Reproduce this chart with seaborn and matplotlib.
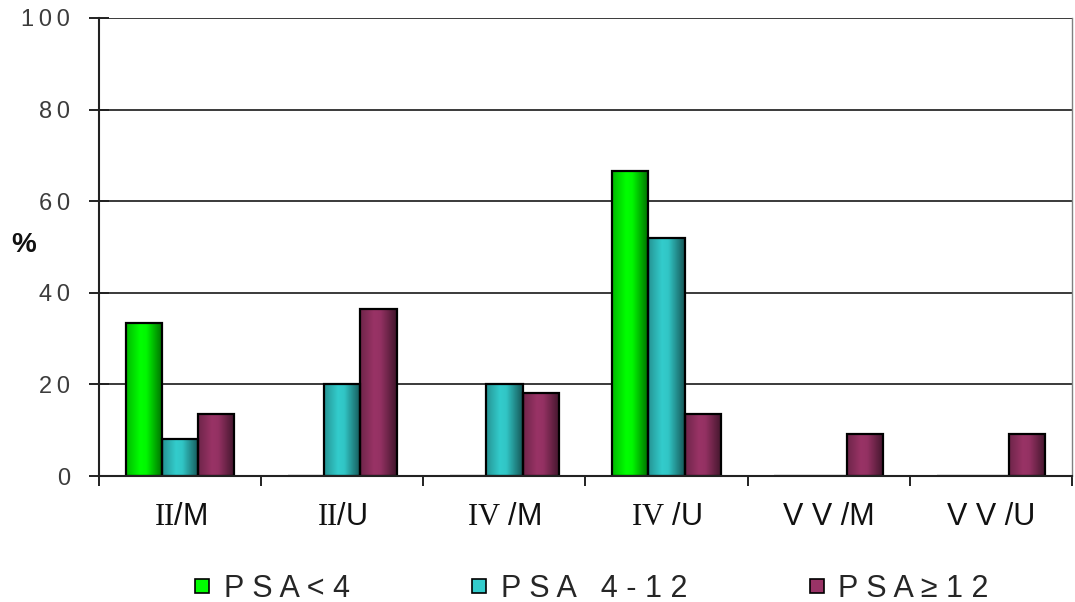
import numpy as np
import pandas as pd
import matplotlib
matplotlib.use("Agg")
import matplotlib.pyplot as plt
from matplotlib.colors import LinearSegmentedColormap, to_rgb
from matplotlib.lines import Line2D
import seaborn as sns

# Percentages per grade / margin group for the three PSA classes
groups = ["II/M", "II/U", "IV/M", "IV/U", "VV/M", "VV/U"]
group_labels = [r"$\mathrm{II}$/M", r"$\mathrm{II}$/U", r"$\mathrm{IV}$ /M",
                r"$\mathrm{IV}$ /U", "V V /M", "V V /U"]
series = ["PSA<4", "PSA 4-12", "PSA≥12"]
psa_lt4 = [33.3, 0.0, 0.0, 66.7, 0.0, 0.0]
psa_4_12 = [8.0, 20.0, 20.0, 52.0, 0.0, 0.0]
psa_ge12 = [13.6, 36.4, 18.2, 13.6, 9.1, 9.1]
legend_labels = ["P S A < 4", "P S A   4 - 1 2", "P S A ≥ 1 2"]
y_ticks = [0, 20, 40, 60, 80, 100]
colors = ["#00FF00", "#33CCCC", "#993366"]

df = pd.DataFrame({
    "group": groups * 3,
    "psa": [s for s in series for _ in groups],
    "pct": psa_lt4 + psa_4_12 + psa_ge12,
})

sns.set_theme(style="white")
plt.rcParams["font.family"] = ["Liberation Sans", "DejaVu Sans"]
plt.rcParams["mathtext.fontset"] = "custom"
plt.rcParams["mathtext.rm"] = "Liberation Serif"

fig = plt.figure(figsize=(10.75, 6.02), dpi=100)
ax = fig.add_axes([0.0921, 0.2093, 0.9972 - 0.0921, 0.9701 - 0.2093])

sns.barplot(data=df, x="group", y="pct", hue="psa", order=groups,
            hue_order=series, palette=colors, saturation=1, width=0.67,
            edgecolor="black", linewidth=1.6, legend=False, ax=ax)

# cylindrical shading on each bar
def shade_map(c):
    r = np.array(to_rgb(c))
    return LinearSegmentedColormap.from_list(
        "shade", [(0.0, r * 0.72), (0.38, r), (0.55, r * 0.97), (1.0, r * 0.42)])

grad = np.linspace(0, 1, 256).reshape(1, -1)
for cont, col in zip(ax.containers, colors):
    cmap = shade_map(col)
    for bar in cont:
        x, w, h = bar.get_x(), bar.get_width(), bar.get_height()
        if h <= 0:
            continue
        im = ax.imshow(grad, cmap=cmap, aspect="auto", extent=[x, x + w, 0, h],
                       zorder=bar.get_zorder(), interpolation="bicubic")
        im.set_clip_path(bar)
        bar.set_facecolor("none")
        bar.set_zorder(bar.get_zorder() + 0.5)

ax.set_xlim(-0.5, len(groups) - 0.5)
ax.set_ylim(0, 100)
ax.set_aspect("auto")

# grid and frame
ax.set_axisbelow(True)
ax.yaxis.grid(True, color="#3a3a3a", linewidth=1.4)
ax.xaxis.grid(False)
ax.spines["top"].set_visible(False)
ax.spines["right"].set_color("#808080")
ax.spines["right"].set_linewidth(1.0)
for s in ("left", "bottom"):
    ax.spines[s].set_color("#222222")
    ax.spines[s].set_linewidth(1.5)

# y axis
ax.set_yticks(y_ticks)
ax.set_yticklabels(["\u2009".join(str(v)) for v in y_ticks])
ax.tick_params(axis="y", which="major", direction="inout", length=14, width=1.4,
               color="#222222", labelsize=17, labelcolor="#3c3c3c", pad=14, left=True)
ax.set_ylabel("%", rotation=0, fontsize=20, fontweight="bold", color="#111111",
              va="center", ha="center")
ax.yaxis.set_label_coords(-0.077, 0.505)

# x axis: labels at centres, tick marks between groups
ax.set_xlabel("")
ax.set_xticks(range(len(groups)))
ax.set_xticklabels(group_labels)
ax.set_xticks(np.arange(-0.5, len(groups)), minor=True)
ax.tick_params(axis="x", which="major", length=0, labelsize=22, labelcolor="#111111", pad=19)
ax.tick_params(axis="x", which="minor", direction="out", length=7, width=1.4,
               color="#222222", bottom=True)

# legend
handles = [Line2D([], [], marker="s", linestyle="none", markersize=10,
                  markerfacecolor=c, markeredgecolor="black", markeredgewidth=1.2)
           for c in colors]
fig.legend(handles, legend_labels, loc="center", bbox_to_anchor=(0.549, 0.022),
           ncol=3, frameon=False, handletextpad=0.35,
           columnspacing=3.9, handlelength=0.7,
           prop={"family": ["Liberation Sans", "DejaVu Sans"], "size": 22})

fig.savefig("out.png", dpi=100, facecolor="white")
